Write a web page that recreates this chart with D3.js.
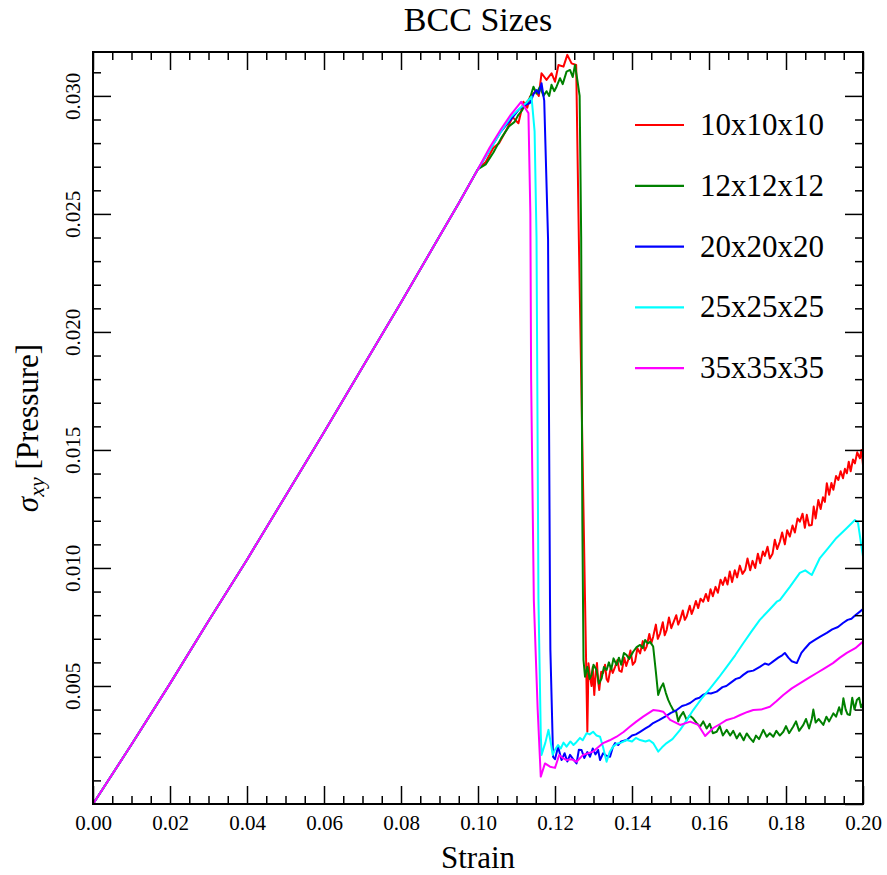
<!DOCTYPE html>
<html><head><meta charset="utf-8">
<script src="https://cdn.jsdelivr.net/npm/d3@7"></script>
<style>
html,body{margin:0;padding:0;background:#fff;}
svg text{font-family:"Liberation Serif","DejaVu Serif",serif !important;fill:#000;}
</style></head>
<body>
<svg id="chart" width="887" height="875"></svg>
<script>
// ---- data ----
const seriesNames = ["10x10x10","12x12x12","20x20x20","25x25x25","35x35x35"];
const seriesColors = ["#ff0000","#008000","#0000ff","#00ffff","#ff00ff"];
const xTicks = [0,0.02,0.04,0.06,0.08,0.10,0.12,0.14,0.16,0.18,0.20];
const xTickLabels = ["0.00","0.02","0.04","0.06","0.08","0.10","0.12","0.14","0.16","0.18","0.20"];
const yTicks = [0.005,0.010,0.015,0.020,0.025,0.030];
const yTickLabels = ["0.005","0.010","0.015","0.020","0.025","0.030"];

// shared elastic loading branch (strain, stress)
const elastic = [[0,0],[0.01,0.00252],[0.02,0.00510],[0.03,0.00775],[0.04,0.01035],[0.05,0.01305],[0.06,0.01575],[0.07,0.01850],[0.08,0.02125],[0.09,0.02405],[0.095,0.02545],[0.10,0.02690]];

const red10 = [[0.1020,0.0272],[0.1040,0.0278],[0.1055,0.0280],[0.1075,0.0286],[0.1090,0.0291],[0.1105,0.02884],[0.1118,0.02975],[0.1128,0.02950],[0.1135,0.02997],[0.1150,0.0302],[0.1158,0.03000],[0.1165,0.03096],[0.1178,0.03068],[0.1191,0.03096],[0.1200,0.03060],[0.1209,0.03131],[0.1222,0.03124],[0.1232,0.03174],[0.1243,0.03138],[0.1255,0.03131],[0.1262,0.0239],[0.1278,0.00864],[0.1284,0.00306],[0.1287,0.00596],[0.1291,0.00540],[0.1295,0.00500],[0.1298,0.00580],[0.1302,0.00462],[0.1306,0.00560],[0.1309,0.00597],[0.1312,0.00520],[0.1315,0.00483],[0.1320,0.00560],[0.1325,0.00555],[0.1330,0.00590],[0.1334,0.00530],[0.1338,0.00518],[0.1345,0.00580],[0.1350,0.00555],[0.1356,0.00581],[0.1362,0.00610],[0.1367,0.00565],[0.1373,0.00560],[0.1380,0.00620],[0.1385,0.00585],[0.1390,0.00610],[0.1396,0.00650],[0.1402,0.00590],[0.1408,0.00603],[0.1414,0.00660],[0.1421,0.00638],[0.1428,0.00690],[0.1433,0.00650],[0.1438,0.00667],[0.1445,0.00720],[0.1450,0.00680],[0.1455,0.00709],[0.1462,0.00760],[0.1467,0.00700],[0.1473,0.00723],[0.1480,0.00770],[0.1485,0.00715],[0.1490,0.00737],[0.1496,0.00790],[0.1502,0.00745],[0.1507,0.00766],[0.1515,0.00800],[0.1520,0.00760],[0.1525,0.00780],[0.1532,0.00820],[0.1537,0.00780],[0.1542,0.00794],[0.1550,0.00840],[0.1555,0.00805],[0.1559,0.00822],[0.1566,0.00860],[0.1572,0.00830],[0.1578,0.00870],[0.1585,0.00857],[0.1592,0.00890],[0.1598,0.00860],[0.1604,0.00910],[0.1610,0.00880],[0.1617,0.00920],[0.1623,0.00895],[0.1630,0.00950],[0.1636,0.00928],[0.1642,0.00960],[0.1648,0.00930],[0.1654,0.00985],[0.1660,0.00940],[0.1667,0.00990],[0.1673,0.00960],[0.1680,0.01010],[0.1687,0.00975],[0.1694,0.00992],[0.1700,0.01040],[0.1707,0.00990],[0.1713,0.01030],[0.1720,0.01000],[0.1727,0.01060],[0.1733,0.01020],[0.1740,0.01070],[0.1745,0.01051],[0.1752,0.01090],[0.1758,0.01040],[0.1765,0.01060],[0.1771,0.01120],[0.1777,0.01080],[0.1784,0.01111],[0.1790,0.01150],[0.1797,0.01100],[0.1803,0.01160],[0.1810,0.01133],[0.1817,0.01180],[0.1823,0.01150],[0.1830,0.01210],[0.1836,0.01196],[0.1843,0.01230],[0.1849,0.01170],[0.1854,0.01225],[0.1860,0.01180],[0.1867,0.01182],[0.1872,0.01260],[0.1877,0.01210],[0.1884,0.01288],[0.1890,0.01250],[0.1896,0.01300],[0.1901,0.01280],[0.1906,0.01359],[0.1912,0.01310],[0.1918,0.01360],[0.1923,0.01331],[0.1930,0.01390],[0.1936,0.01373],[0.1942,0.01410],[0.1948,0.01380],[0.1953,0.01420],[0.1958,0.01401],[0.1963,0.01450],[0.1968,0.01410],[0.1974,0.01460],[0.1979,0.01443],[0.1985,0.01490],[0.1992,0.01465],[0.1996,0.01500],[0.2000,0.01436]];

const green12 = [[0.1020,0.0271],[0.1040,0.0276],[0.1060,0.0282],[0.1080,0.0287],[0.1095,0.0289],[0.1105,0.0292],[0.1115,0.0294],[0.1125,0.0297],[0.1135,0.0299],[0.1144,0.03039],[0.1152,0.03010],[0.1161,0.03039],[0.1170,0.03000],[0.1178,0.03020],[0.1185,0.03000],[0.1191,0.03047],[0.1198,0.03020],[0.1204,0.03039],[0.1213,0.03075],[0.1220,0.03050],[0.1230,0.03103],[0.1239,0.03110],[0.1246,0.03080],[0.1252,0.03131],[0.1258,0.03068],[0.1264,0.0300],[0.1268,0.0240],[0.1271,0.0120],[0.1274,0.00610],[0.1278,0.00539],[0.1284,0.00581],[0.1290,0.00530],[0.1295,0.00547],[0.1300,0.00590],[0.1308,0.00568],[0.1314,0.00510],[0.1321,0.00532],[0.1327,0.00580],[0.1334,0.00568],[0.1340,0.00600],[0.1346,0.00570],[0.1352,0.00617],[0.1360,0.00589],[0.1366,0.00620],[0.1372,0.00590],[0.1379,0.00640],[0.1386,0.00631],[0.1393,0.00615],[0.1403,0.00645],[0.1412,0.00665],[0.1421,0.00674],[0.1428,0.00660],[0.1434,0.00695],[0.1441,0.00680],[0.1447,0.00687],[0.1455,0.00667],[0.1462,0.00560],[0.1468,0.00462],[0.1474,0.00490],[0.1481,0.00511],[0.1488,0.00470],[0.1494,0.00441],[0.1500,0.00420],[0.1507,0.00398],[0.1515,0.00390],[0.1520,0.00350],[0.1525,0.00370],[0.1533,0.00390],[0.1542,0.00356],[0.1550,0.00375],[0.1559,0.00362],[0.1567,0.00345],[0.1577,0.00328],[0.1585,0.00350],[0.1594,0.00320],[0.1602,0.00340],[0.1610,0.00300],[0.1620,0.00306],[0.1628,0.00330],[0.1636,0.00290],[0.1646,0.00314],[0.1655,0.00290],[0.1663,0.00310],[0.1672,0.00278],[0.1680,0.00300],[0.1690,0.00270],[0.1698,0.00299],[0.1706,0.00280],[0.1715,0.00263],[0.1722,0.00290],[0.1730,0.00275],[0.1741,0.00314],[0.1750,0.00285],[0.1758,0.00300],[0.1767,0.00285],[0.1775,0.00310],[0.1784,0.00290],[0.1793,0.00306],[0.1800,0.00330],[0.1808,0.00300],[0.1819,0.00328],[0.1826,0.00350],[0.1834,0.00310],[0.1845,0.00335],[0.1852,0.00360],[0.1860,0.00320],[0.1867,0.00360],[0.1871,0.00400],[0.1877,0.00345],[0.1885,0.00360],[0.1897,0.00335],[0.1905,0.00370],[0.1912,0.00350],[0.1923,0.00384],[0.1930,0.00370],[0.1938,0.00410],[0.1944,0.00380],[0.1949,0.00448],[0.1955,0.00400],[0.1960,0.00380],[0.1966,0.00377],[0.1972,0.00450],[0.1978,0.00400],[0.1984,0.00441],[0.1990,0.00450],[0.1995,0.00410],[0.2000,0.00426]];

const blue20 = [[0.1030,0.0277],[0.1060,0.0285],[0.1085,0.0290],[0.1105,0.0294],[0.1120,0.0296],[0.1135,0.0297],[0.1145,0.0301],[0.1152,0.03025],[0.1158,0.0301],[0.1165,0.03054],[0.1172,0.0298],[0.1182,0.0239],[0.1187,0.00864],[0.1188,0.00653],[0.1195,0.00200],[0.1200,0.00190],[0.1208,0.00243],[0.1217,0.00186],[0.1225,0.00215],[0.1232,0.00180],[0.1239,0.00208],[0.1247,0.00190],[0.1256,0.00172],[0.1262,0.00230],[0.1269,0.00229],[0.1276,0.00195],[0.1284,0.00220],[0.1291,0.00200],[0.1298,0.00235],[0.1305,0.00210],[0.1312,0.00229],[0.1317,0.00186],[0.1325,0.00215],[0.1333,0.00205],[0.1343,0.00200],[0.1350,0.00240],[0.1356,0.00258],[0.1364,0.00250],[0.1372,0.00265],[0.1386,0.00271],[0.1400,0.00290],[0.1410,0.00295],[0.1421,0.00306],[0.1435,0.00320],[0.1445,0.00330],[0.1455,0.00343],[0.1470,0.00355],[0.1486,0.00370],[0.1500,0.00385],[0.1516,0.00398],[0.1530,0.00415],[0.1540,0.00420],[0.1551,0.00428],[0.1565,0.00445],[0.1575,0.00450],[0.1584,0.00462],[0.1595,0.00470],[0.1605,0.00468],[0.1620,0.00476],[0.1635,0.00495],[0.1645,0.00500],[0.1655,0.00512],[0.1670,0.00530],[0.1680,0.00535],[0.1689,0.00547],[0.1700,0.00560],[0.1715,0.00565],[0.1732,0.00581],[0.1745,0.00595],[0.1755,0.00590],[0.1766,0.00603],[0.1780,0.00620],[0.1790,0.00630],[0.1797,0.00640],[0.1806,0.00620],[0.1815,0.00605],[0.1828,0.00597],[0.1840,0.00640],[0.1850,0.00660],[0.1862,0.00682],[0.1875,0.00695],[0.1890,0.00710],[0.1906,0.00725],[0.1920,0.00740],[0.1935,0.00750],[0.1948,0.00767],[0.1960,0.00780],[0.1970,0.00785],[0.1980,0.00800],[0.1992,0.00815],[0.2000,0.00826]];

const cyan25 = [[0.1030,0.0277],[0.1060,0.0285],[0.1085,0.0291],[0.1110,0.0295],[0.1125,0.0297],[0.1139,0.02997],[0.1147,0.0285],[0.1152,0.0240],[0.1157,0.0087],[0.1163,0.0030],[0.1165,0.00208],[0.1175,0.00260],[0.1183,0.00314],[0.1190,0.00250],[0.1194,0.00208],[0.1200,0.00230],[0.1208,0.00250],[0.1215,0.00235],[0.1222,0.00260],[0.1230,0.00243],[0.1240,0.00265],[0.1248,0.00250],[0.1256,0.00263],[0.1265,0.00280],[0.1272,0.00270],[0.1282,0.00300],[0.1290,0.00295],[0.1299,0.00306],[0.1308,0.00290],[0.1317,0.00285],[0.1325,0.00240],[0.1334,0.00179],[0.1342,0.00220],[0.1351,0.00243],[0.1360,0.00255],[0.1372,0.00260],[0.1386,0.00271],[0.1400,0.00265],[0.1410,0.00280],[0.1421,0.00271],[0.1435,0.00265],[0.1445,0.00270],[0.1455,0.00258],[0.1468,0.00222],[0.1478,0.00240],[0.1490,0.00258],[0.1505,0.00275],[0.1525,0.00314],[0.1540,0.00350],[0.1559,0.00398],[0.1580,0.00445],[0.1603,0.00490],[0.1625,0.00535],[0.1646,0.00581],[0.1668,0.00630],[0.1689,0.00681],[0.1710,0.00730],[0.1732,0.00780],[0.1755,0.00820],[0.1776,0.00857],[0.1784,0.00864],[0.1810,0.00920],[0.1836,0.00979],[0.1850,0.00990],[0.1867,0.00970],[0.1888,0.01042],[0.1910,0.01085],[0.1931,0.01127],[0.1958,0.01169],[0.1979,0.01203],[0.1987,0.01191],[0.2000,0.01048]];

const magenta35 = [[0.1030,0.0278],[0.1060,0.0286],[0.1085,0.0292],[0.1112,0.02975],[0.1131,0.02927],[0.1136,0.0250],[0.1138,0.0180],[0.1145,0.00864],[0.1155,0.0040],[0.1163,0.00116],[0.1174,0.00172],[0.1187,0.00158],[0.1200,0.00153],[0.1211,0.00208],[0.1220,0.00195],[0.1230,0.00186],[0.1243,0.00190],[0.1256,0.00179],[0.1273,0.00208],[0.1299,0.00222],[0.1325,0.00258],[0.1342,0.00270],[0.1360,0.00285],[0.1378,0.00305],[0.1395,0.00328],[0.1412,0.00350],[0.1429,0.00370],[0.1455,0.00398],[0.1470,0.00395],[0.1481,0.00391],[0.1499,0.00356],[0.1525,0.00335],[0.1551,0.00349],[0.1572,0.00335],[0.1590,0.00288],[0.1611,0.00322],[0.1630,0.00340],[0.1646,0.00356],[0.1665,0.00365],[0.1681,0.00377],[0.1700,0.00390],[0.1715,0.00398],[0.1735,0.00400],[0.1758,0.00412],[0.1775,0.00435],[0.1793,0.00462],[0.1815,0.00490],[0.1837,0.00512],[0.1860,0.00535],[0.1880,0.00555],[0.1900,0.00575],[0.1922,0.00597],[0.1940,0.00620],[0.1958,0.00640],[0.1980,0.00660],[0.2000,0.00688]];

const seriesData = [red10, green12, blue20, cyan25, magenta35].map(s => elastic.concat(s));

// ---- layout ----
const FONT = "'Liberation Serif','DejaVu Serif',serif";
const L = 93, R = 863, T = 52, B = 804;
const svg = d3.select("#chart");
const x = d3.scaleLinear().domain([0, 0.2]).range([L, R]);
const y = d3.scaleLinear().domain([0, 0.03186]).range([B, T]);

svg.append("defs").append("clipPath").attr("id","clip")
  .append("rect").attr("x",L).attr("y",T).attr("width",R-L).attr("height",B-T);

// lines
const line = d3.line().x(d => x(d[0])).y(d => y(d[1]));
const lg = svg.append("g").attr("clip-path","url(#clip)");
seriesData.forEach((s,i) => {
  lg.append("path").attr("d", line(s)).attr("fill","none")
    .attr("stroke", seriesColors[i]).attr("stroke-width",2).attr("stroke-linejoin","round");
});

// axes
const xMinor = d3.range(0, 0.2001, 0.005).filter(v => Math.abs(v/0.02 - Math.round(v/0.02)) > 1e-6);
const yMinor = d3.range(0.001, 0.0319, 0.001).filter(v => Math.abs(v/0.005 - Math.round(v/0.005)) > 1e-6);
const yMajorAll = [0].concat(yTicks);

function styleAxis(g){
  g.attr("font-family", FONT);
  g.select(".domain").remove();
  g.selectAll(".tick line").attr("stroke","#000").attr("stroke-width",1.5);
}
// bottom
svg.append("g").attr("transform",`translate(0,${B})`)
  .call(d3.axisBottom(x).tickValues(xTicks).tickSize(-18).tickPadding(11)
    .tickFormat((d,i) => xTickLabels[i]))
  .call(styleAxis)
  .call(g => g.selectAll("text").attr("font-size",21).style("font-family",FONT));
svg.append("g").attr("transform",`translate(0,${B})`)
  .call(d3.axisBottom(x).tickValues(xMinor).tickSize(-8).tickFormat("")).call(styleAxis);
// top
svg.append("g").attr("transform",`translate(0,${T})`)
  .call(d3.axisTop(x).tickValues(xTicks).tickSize(-18).tickFormat("")).call(styleAxis);
svg.append("g").attr("transform",`translate(0,${T})`)
  .call(d3.axisTop(x).tickValues(xMinor).tickSize(-8).tickFormat("")).call(styleAxis);
// left
svg.append("g").attr("transform",`translate(${L},0)`)
  .call(d3.axisLeft(y).tickValues(yTicks).tickSize(-18)
    .tickFormat((d,i) => yTickLabels[i]))
  .call(styleAxis)
  .call(g => g.selectAll("text").attr("font-size",21).style("font-family",FONT)
    .attr("x",null).attr("dy",null).attr("text-anchor","middle")
    .attr("transform","translate(-13,0) rotate(-90)"));
svg.append("g").attr("transform",`translate(${L},0)`)
  .call(d3.axisLeft(y).tickValues(yMinor).tickSize(-8).tickFormat("")).call(styleAxis);
// right
svg.append("g").attr("transform",`translate(${R},0)`)
  .call(d3.axisRight(y).tickValues(yMajorAll).tickSize(-18).tickFormat("")).call(styleAxis);
svg.append("g").attr("transform",`translate(${R},0)`)
  .call(d3.axisRight(y).tickValues(yMinor).tickSize(-8).tickFormat("")).call(styleAxis);

// frame
svg.append("rect").attr("x",L).attr("y",T).attr("width",R-L).attr("height",B-T)
  .attr("fill","none").attr("stroke","#000").attr("stroke-width",2);

// title & labels
svg.append("text").attr("x",(L+R)/2).attr("y",31).attr("text-anchor","middle")
  .style("font-family",FONT).attr("font-size",34).text("BCC Sizes");
svg.append("text").attr("x",(L+R)/2).attr("y",868).attr("text-anchor","middle")
  .style("font-family",FONT).attr("font-size",31).text("Strain");
const yl = svg.append("text").attr("transform",`translate(38,${(T+B)/2}) rotate(-90)`)
  .attr("text-anchor","middle").style("font-family",FONT).attr("font-size",31);
yl.append("tspan").attr("font-style","italic").text("σ");
yl.append("tspan").attr("font-style","italic").attr("font-size",22).attr("dy",6).text("xy");
yl.append("tspan").attr("dy",-6).text(" [Pressure]");

// legend
const leg = svg.append("g");
seriesNames.forEach((n,i) => {
  const ly = 125 + i*60.8;
  leg.append("line").attr("x1",635).attr("x2",684).attr("y1",ly).attr("y2",ly)
    .attr("stroke",seriesColors[i]).attr("stroke-width",2.2);
  leg.append("text").attr("x",700).attr("y",ly+10).style("font-family",FONT)
    .attr("font-size",31).text(n);
});
</script>
</body></html>
